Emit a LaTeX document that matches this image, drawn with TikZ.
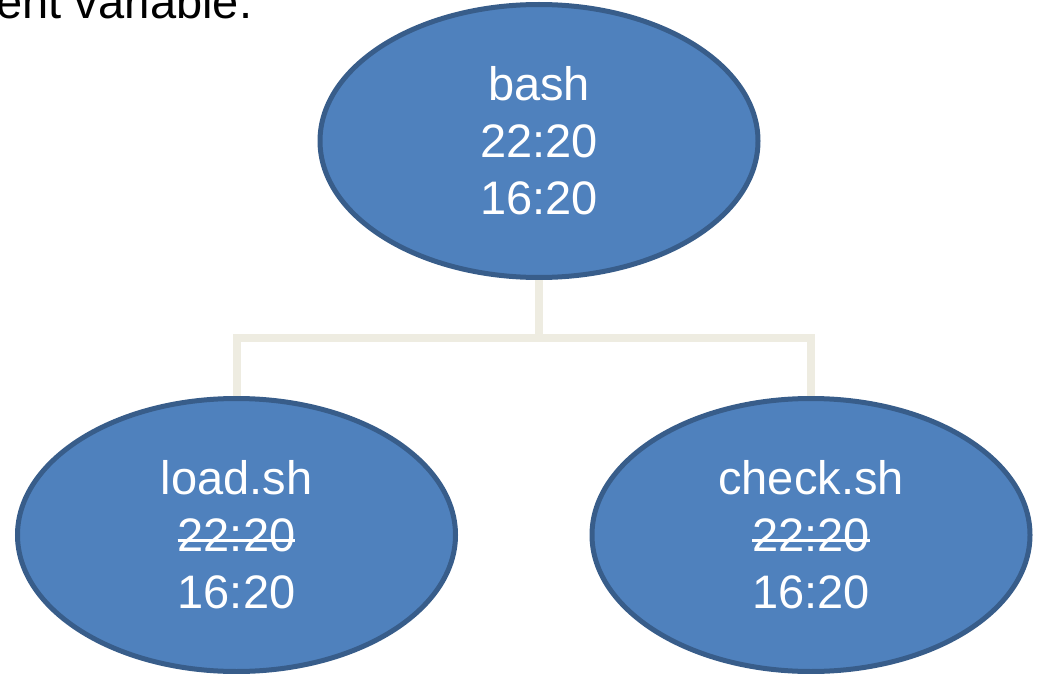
\documentclass[tikz,border=0pt]{standalone}
\usepackage{fontspec}
\setmainfont{Liberation Sans}
\usetikzlibrary{shapes.geometric}
\definecolor{procfill}{HTML}{4F81BD}
\definecolor{procline}{HTML}{385D8A}
\definecolor{connline}{HTML}{EEECE1}
\newcommand\mystrike[1]{\setbox0\hbox{#1}\rlap{\rule[0.2em]{\wd0}{0.065em}}\box0}
\tikzset{
  proc/.style={ellipse, draw=procline, fill=procfill, line width=5pt,
    minimum width=438pt, minimum height=273pt, inner sep=0pt,
    text=white, align=center, font=\fontsize{47}{57}\selectfont},
  conn/.style={draw=connline, line width=8pt},
}
\begin{document}
\begin{tikzpicture}[x=1pt,y=-1pt]
\useasboundingbox (0,0) rectangle (1039,674);
\begin{scope}
\clip (0,0) rectangle (1039,674);
\node[anchor=base west, inner sep=0pt, font=\fontsize{47}{57}\selectfont] (title) at (-4,19) {ent variable.};
\end{scope}
\node[proc] (bash) at (539,141) {bash\\22:20\\16:20};
\node[proc] (load) at (236.5,535) {load.sh\\\mystrike{22:20}\\16:20};
\node[proc] (check) at (811,535) {check.sh\\\mystrike{22:20}\\16:20};
\coordinate (j) at (bash.south |- 0,338);
\draw[conn] (bash.south) -- (j);
\draw[conn] (load.north) |- (j) -| (check.north);
\end{tikzpicture}
\end{document}
